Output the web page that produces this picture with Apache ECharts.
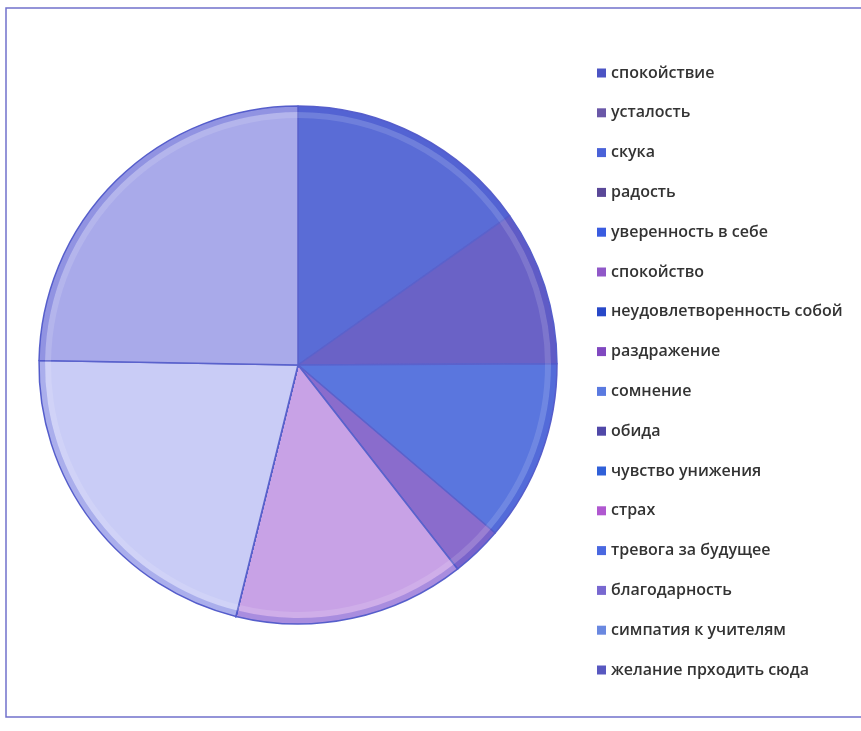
<!DOCTYPE html>
<html>
<head>
<meta charset="utf-8">
<script src="https://cdn.jsdelivr.net/npm/echarts@6/dist/echarts.min.js"></script>
<style>
html,body{margin:0;padding:0;background:#fff;}
#chart{width:861px;height:731px;}
</style>
</head>
<body>
<div id="chart"></div>
<script>
const categories = ['спокойствие','усталость','скука','радость','уверенность в себе','спокойство','неудовлетворенность собой','раздражение','сомнение','обида','чувство унижения','страх','тревога за будущее','благодарность','симпатия к учителям','желание прходить сюда'];
const values = [15.2, 9.7, 11.3, 3.2, 0, 14.4, 0, 0, 0, 0, 0, 0, 0, 0, 21.4, 24.7];
const sliceColors = ['#5a6cd6','#6a62c6','#5a76de','#8a6ccc','#3a5ce0','#c8a2e6','#2848c8','#8048c0','#5a78e0','#5048a8','#3060d8','#b058d0','#4a68e0','#7868d0','#c9ccf6','#a9aaea'];
const legendColors = ['#4c54c4','#6a58a8','#4a62d8','#5a4898','#3a5ce0','#9058c8','#2848c8','#8048c0','#5a7ae0','#5048a8','#3060d8','#b058d0','#4a68e0','#7868d0','#6a88e0','#5858c0'];

const chart = echarts.init(document.getElementById('chart'), null, {renderer:'canvas'});
chart.setOption({
  animation:false,
  backgroundColor:'#fff',
  graphic:[{type:'rect', shape:{x:6, y:8, width:870, height:709}, style:{fill:'none', stroke:'#7272cc', lineWidth:1.5}}],
  legend:{
    orient:'vertical', left:592, top:59,
    itemWidth:9, itemHeight:9, itemGap:21.8,
    icon:'rect',
    textStyle:{fontFamily:'Open Sans', fontWeight:600, fontSize:16, color:'#333', lineHeight:18},
    data: categories.map((c,i)=>({name:c, itemStyle:{color:legendColors[i], borderWidth:0}}))
  },
  series:[{
    type:'pie', center:[298,365], radius:[0,259], startAngle:90, clockwise:true,
    label:{show:false}, labelLine:{show:false},
    itemStyle:{borderColor:'#5a62cc', borderWidth:1.5},
    emphasis:{disabled:true},
    data: categories.map((c,i)=>({name:c, value:values[i], itemStyle:{color:sliceColors[i]}}))
  },{
    type:'pie', center:[298,365], radius:[247,253], startAngle:90, clockwise:true, silent:true,
    label:{show:false}, labelLine:{show:false},
    itemStyle:{color:'rgba(255,255,255,0.13)', borderWidth:0},
    emphasis:{disabled:true},
    data: categories.map((c,i)=>({name:c, value:values[i]}))
  },{
    type:'pie', center:[298,365], radius:[253,259], startAngle:90, clockwise:true, silent:true,
    label:{show:false}, labelLine:{show:false},
    itemStyle:{color:'rgba(60,70,200,0.22)', borderWidth:0},
    emphasis:{disabled:true},
    data: categories.map((c,i)=>({name:c, value:values[i]}))
  }]
});
</script>
</body>
</html>
